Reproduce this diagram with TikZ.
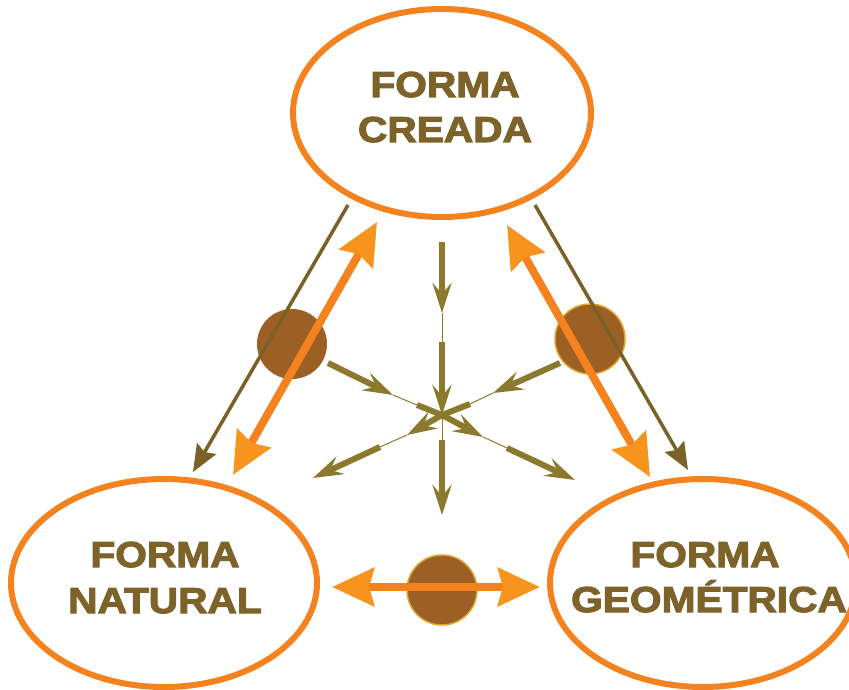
\documentclass[tikz,border=0pt]{standalone}
\usepackage{fontspec}
\usetikzlibrary{shapes.geometric,arrows.meta}
\newfontfamily\labelfont{Liberation Sans}[FakeStretch=1.13, FakeBold=3]

\definecolor{ringorange}{HTML}{F4821F}
\definecolor{tiporange}{HTML}{F7941E}
\definecolor{labelbrown}{HTML}{7D6229}
\definecolor{lineolive}{HTML}{7A6127}
\definecolor{starolive}{HTML}{8B7A2E}
\definecolor{dotbrown}{HTML}{9C6024}
\definecolor{dotrim}{HTML}{E0A52C}

\tikzset{
  formshape/.style={ellipse, draw=ringorange, line width=6pt, fill=white,
    minimum width=#1, minimum height=208pt, inner sep=0pt},
  formtext/.style={font=\labelfont\bfseries\fontsize{36}{45}\selectfont, text=labelbrown,
    anchor=base, inner sep=0pt},
  dot/.style={circle, fill=dotbrown, minimum size=70pt, inner sep=0pt},
  rimdot/.style={dot, draw=dotrim, line width=1.5pt},
  linkarrow/.style={draw=ringorange, line width=8pt,
    {Stealth[length=42pt,width=38pt,inset=5pt,color=tiporange]}-{Stealth[length=42pt,width=38pt,inset=5pt,color=tiporange]}},
  thinlink/.style={draw=lineolive, line width=3.5pt,
    -{Stealth[length=27pt,width=22pt,inset=4pt]}},
  raythick/.style={draw=starolive, line width=6pt},
  rayarrow/.style={raythick, -{Stealth[length=30pt,width=19pt,inset=11pt]}},
  raythin/.style={draw=starolive, line width=1pt},
}

\begin{document}
\begin{tikzpicture}[x=1pt, y=-1pt]
  \useasboundingbox (0,0) rectangle (849,690);

  % the three forms
  \node[formshape=298pt] (creada) at (442,113) {};
  \node[formshape=306pt] (natural) at (164,583) {};
  \node[formshape=306pt] (geometrica) at (703,583) {};

  \node[formtext] (creadaA) at (445,97) {FORMA};
  \node[formtext] (creadaB) at (445,142) {CREADA};
  \node[formtext] (naturalA) at (165,567) {FORMA};
  \node[formtext] (naturalB) at (165,613) {NATURAL};
  \node[formtext] (geomA) at (705,567) {FORMA};
  \node[formtext] (geomB) at (709,612) {GEOMÉTRICA};

  % brown markers on the links
  \node[dot] (dotL) at (292,344) {};
  \node[rimdot] (dotR) at (590,339) {};
  \node[rimdot] (dotB) at (442,590) {};

  % end points of the links
  \coordinate (lTop) at (377,222);
  \coordinate (lBot) at (233,475);
  \coordinate (rTop) at (507,225);
  \coordinate (rBot) at (650,477);
  \coordinate (bL) at (332,587);
  \coordinate (bR) at (540,587);
  \coordinate (tlA) at (348,205);
  \coordinate (tlB) at (193,472);
  \coordinate (trA) at (535,205);
  \coordinate (trB) at (688,470);

  % thin one-way links
  \draw[thinlink] (tlA) -- (tlB);
  \draw[thinlink] (trA) -- (trB);

  % two-way links
  \draw[linkarrow] (lTop) -- (lBot);
  \draw[linkarrow] (rTop) -- (rBot);
  \draw[linkarrow] (bL) -- (bR);

  % central star of rays
  \coordinate (c) at (442,415);
  % top ray (inward)
  \coordinate (t1) at (442,242); \coordinate (t2) at (442,313); \coordinate (t3) at (442,342);
  \draw[rayarrow] (t1) -- (t2);
  \draw[raythin] (t2) -- (t3);
  \draw[rayarrow] (t3) -- (c);
  % bottom ray (outward)
  \coordinate (b1) at (442,440); \coordinate (b2) at (442,515);
  \draw[raythin] (c) -- (b1);
  \draw[rayarrow] (b1) -- (b2);
  % upper-left ray (inward)
  \coordinate (ul1) at (328,363); \coordinate (ul2) at (393,395); \coordinate (ul3) at (417,405);
  \draw[rayarrow] (ul1) -- (ul2);
  \draw[raythin] (ul2) -- (ul3);
  \draw[raythick] (ul3) -- (c);
  % upper-right ray (inward)
  \coordinate (ur1) at (560,363); \coordinate (ur2) at (493,393); \coordinate (ur3) at (470,404);
  \draw[rayarrow] (ur1) -- (ur2);
  \draw[raythin] (ur2) -- (ur3);
  \draw[raythick] (ur3) -- (c);
  % lower-right ray (outward)
  \coordinate (lr1) at (483,437); \coordinate (lr2) at (507,448); \coordinate (lr3) at (575,480);
  \draw[rayarrow] (c) -- (lr1);
  \draw[raythin] (lr1) -- (lr2);
  \draw[rayarrow] (lr2) -- (lr3);
  % lower-left ray (outward)
  \coordinate (ll1) at (407,435); \coordinate (ll2) at (380,447); \coordinate (ll3) at (313,478);
  \draw[rayarrow] (c) -- (ll1);
  \draw[raythin] (ll1) -- (ll2);
  \draw[rayarrow] (ll2) -- (ll3);
\end{tikzpicture}
\end{document}
